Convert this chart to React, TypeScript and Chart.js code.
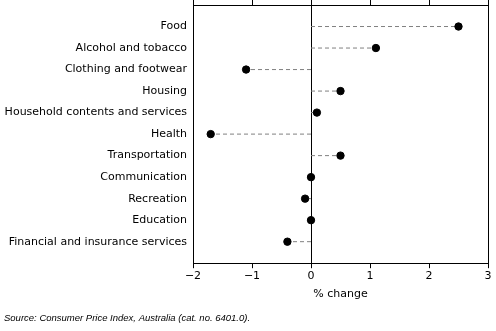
import React, { useEffect, useRef } from "react";
import { Chart, registerables } from "chart.js";

Chart.register(...registerables);

const categories: string[] = [
  "Food",
  "Alcohol and tobacco",
  "Clothing and footwear",
  "Housing",
  "Household contents and services",
  "Health",
  "Transportation",
  "Communication",
  "Recreation",
  "Education",
  "Financial and insurance services",
];

const values: number[] = [2.5, 1.1, -1.1, 0.5, 0.1, -1.7, 0.5, 0.0, -0.1, 0.0, -0.4];

const xTicks: number[] = [-2, -1, 0, 1, 2, 3];

const xTitle = "% change";
const sourceText = "Source: Consumer Price Index, Australia (cat. no. 6401.0).";

const FONT = "'DejaVu Sans', sans-serif";

export default function App() {
  const ref = useRef<HTMLCanvasElement | null>(null);

  useEffect(() => {
    if (!ref.current) return;
    const pointData = values.map((v, i) => ({ x: v, y: i + 1 }));
    const dashSets: any[] = values.map((v, i) => ({
      type: "line",
      data: [
        { x: 0, y: i + 1 },
        { x: v, y: i + 1 },
      ],
      borderColor: "#808080",
      borderWidth: 1,
      borderDash: [4, 3],
      pointRadius: 0,
      pointHoverRadius: 0,
      fill: false,
      order: 2,
    }));
    const chart = new Chart(ref.current, {
      type: "scatter",
      data: {
        datasets: [
          {
            data: pointData,
            backgroundColor: "#000",
            borderColor: "#000",
            pointRadius: 3.7,
            pointHoverRadius: 3.7,
            order: 1,
          } as any,
          ...dashSets,
        ],
      },
      options: {
        animation: false,
        responsive: false,
        maintainAspectRatio: false,
        layout: { padding: { left: 4, right: 8, top: 0, bottom: 0 } },
        plugins: {
          legend: { display: false },
          tooltip: { enabled: false },
          title: {
            display: true,
            text: sourceText,
            position: "bottom",
            align: "start",
            color: "#000",
            font: { family: "'Liberation Sans', sans-serif", size: 9.5, style: "italic", weight: "normal" },
            padding: { top: 12, bottom: 7 },
          },
        },
        scales: {
          x: {
            type: "linear",
            position: "bottom",
            min: -2,
            max: 3,
            afterBuildTicks: (s: any) => {
              s.ticks = xTicks.map((v) => ({ value: v }));
            },
            ticks: {
              color: "#000",
              padding: 1,
              font: { family: FONT, size: 11 },
              callback: (v: any) => String(v).replace("-", "\u2212"),
            },
            grid: {
              drawOnChartArea: true,
              color: (ctx: any) =>
                ctx.tick && (ctx.tick.value === 0 || ctx.tick.value === 3) ? "#000" : "rgba(0,0,0,0)",
              tickColor: "#000",
              tickLength: 5,
              lineWidth: 1,
            },
            border: { display: true, color: "#000", width: 1 },
            title: {
              display: true,
              text: xTitle,
              color: "#000",
              font: { family: FONT, size: 11 },
              padding: { top: 4, bottom: 0 },
            },
          },
          x2: {
            type: "linear",
            position: "top",
            min: -2,
            max: 3,
            afterBuildTicks: (s: any) => {
              s.ticks = xTicks.map((v) => ({ value: v }));
            },
            afterFit: (s: any) => {
              s.height = 5;
            },
            ticks: { display: false },
            grid: {
              drawOnChartArea: false,
              tickColor: "#000",
              tickLength: 5,
              color: "#000",
            },
            border: { display: true, color: "#000", width: 1 },
          },
          y: {
            type: "linear",
            reverse: true,
            min: 0,
            max: 12,
            afterBuildTicks: (s: any) => {
              s.ticks = categories.map((_, i) => ({ value: i + 1 }));
            },
            afterFit: (s: any) => {
              s.width = 189;
              s.paddingTop = 0;
              s.paddingBottom = 0;
            },
            ticks: {
              autoSkip: false,
              color: "#000",
              padding: 6,
              font: { family: FONT, size: 11 },
              callback: (v: any) => categories[Number(v) - 1] ?? "",
            },
            grid: { display: false, drawTicks: false, tickLength: 0 },
            border: { display: true, color: "#000", width: 1 },
          },
        },
      } as any,
    });
    return () => chart.destroy();
  }, []);

  return (
    <div style={{ position: "fixed", left: 0, top: 0, width: 496, height: 331, background: "#fff" }}>
      <canvas ref={ref} width={496} height={331} style={{ display: "block" }} />
    </div>
  );
}
